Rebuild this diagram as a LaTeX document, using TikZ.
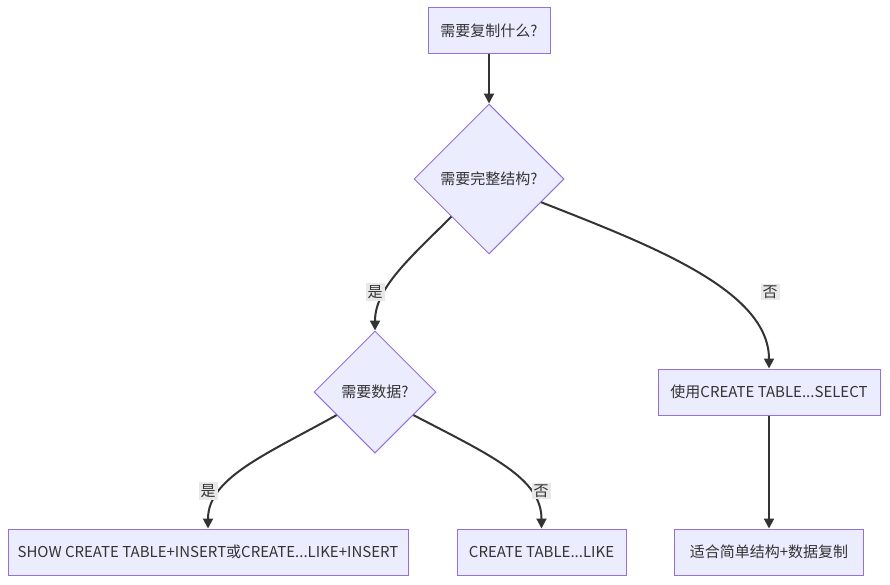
\documentclass[tikz,border=0pt]{standalone}
\usepackage{fontspec}
\setmainfont{Noto Sans CJK SC}
\usetikzlibrary{shapes.geometric,arrows.meta}
\definecolor{nodefill}{HTML}{ECECFF}
\definecolor{nodeborder}{HTML}{9370DB}
\definecolor{edgecol}{HTML}{333333}
\definecolor{labelbg}{HTML}{E8E8E8}
\begin{document}
\begin{tikzpicture}[x=1pt,y=-1pt,
  every node/.style={font=\fontsize{15}{18}\selectfont, text=edgecol},
  boxnode/.style={draw=nodeborder, fill=nodefill, line width=1pt, rectangle, inner sep=0pt, minimum height=46pt},
  decision/.style={draw=nodeborder, fill=nodefill, line width=1pt, diamond, aspect=1, inner sep=0pt},
  flow/.style={draw=edgecol, line width=2pt, -{Triangle[length=10pt,width=10pt]}},
  elabel/.style={fill=labelbg, inner sep=2pt}
]
\useasboundingbox (0,0) rectangle (890,584);
\node[boxnode, minimum width=122pt] (q1) at (489,30.5) {需要复制什么?};
\node[decision, minimum width=150pt, minimum height=150pt] (d1) at (489,179) {需要完整结构?};
\node[decision, minimum width=122pt, minimum height=122pt] (d2) at (375,392) {需要数据?};
\node[boxnode, minimum width=222pt] (sel) at (769,392) {使用CREATE TABLE...SELECT};
\node[boxnode, minimum width=400pt] (show) at (208,552) {SHOW CREATE TABLE+INSERT或CREATE...LIKE+INSERT};
\node[boxnode, minimum width=169pt] (like) at (541.5,552) {CREATE TABLE...LIKE};
\node[boxnode, minimum width=189pt] (fit) at (769,552) {适合简单结构+数据复制};

\draw[flow] (q1.south) -- (d1.north);
\draw[flow] (d1.south west) .. controls (410,258) and (375,288) .. (d2.north);
\draw[flow] (d1.-24) .. controls (650,245) and (769,290) .. (sel.north);
\draw[flow] (d2.211) .. controls (265,455) and (208,478) .. (show.north);
\draw[flow] (d2.-31) .. controls (490,455) and (541.5,478) .. (like.north);
\draw[flow] (sel.south) -- (fit.north);

\node[elabel] (l1) at (375,292) {是};
\node[elabel] (l2) at (770,292) {否};
\node[elabel] (l3) at (208,491) {是};
\node[elabel] (l4) at (541,491) {否};
\end{tikzpicture}
\end{document}
